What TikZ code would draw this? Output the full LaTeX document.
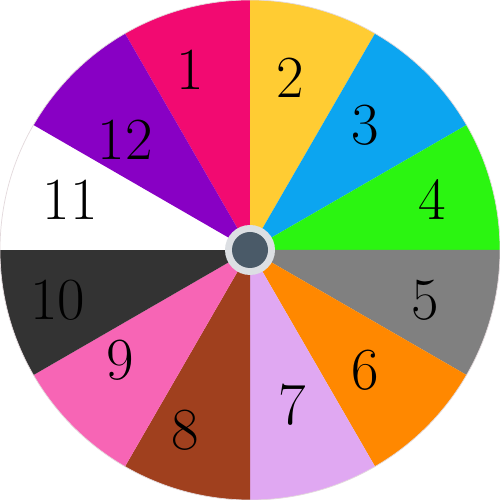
\documentclass[tikz,border=0pt]{standalone}
\usepackage{xcolor}
\definecolor{CPink}{HTML}{F20A71}
\definecolor{CYellow}{HTML}{FFCC33}
\definecolor{CBlue}{HTML}{0CA5F0}
\definecolor{CGreen}{HTML}{2BF511}
\definecolor{CGray}{HTML}{808080}
\definecolor{COrange}{HTML}{FF8800}
\definecolor{CLavender}{HTML}{E0A8F2}
\definecolor{CBrown}{HTML}{A0401E}
\definecolor{CRose}{HTML}{F765B5}
\definecolor{CDark}{HTML}{333333}
\definecolor{CWhite}{HTML}{FFFFFF}
\definecolor{CPurple}{HTML}{8800C4}
\definecolor{CHubRing}{HTML}{DCDFE3}
\definecolor{CHub}{HTML}{4A5A68}
\usepackage{tikz}
\tikzstyle{numLabel}=[text=black, font=\fontsize{34}{34}\selectfont, inner sep=0pt]

\begin{document}
\begin{tikzpicture}
\useasboundingbox (0,0) rectangle (10,10);
\fill[white] (0,0) rectangle (10,10);
% sectors, clockwise from the top
\foreach \col [count=\i] in {CPink,CYellow,CBlue,CGreen,CGray,COrange,CLavender,CBrown,CRose,CDark,CWhite,CPurple}
  \fill[\col] (5,5) -- ++(150-\i*30:5) arc[start angle=150-\i*30, end angle=120-\i*30, radius=5] -- cycle;
\draw[CHubRing!80!pink, line width=0.4pt] (5,5) circle (5);
% hub
\node[circle, fill=CHubRing, minimum size=1.0cm, inner sep=0pt] (hubring) at (5,5) {};
\node[circle, fill=CHub, minimum size=0.72cm, inner sep=0pt] (hub) at (5,5) {};
% numbers
\node[numLabel] (n1) at (3.8,8.6) {1};
\node[numLabel] (n2) at (5.8,8.45) {2};
\node[numLabel] (n3) at (7.3,7.5) {3};
\node[numLabel] (n4) at (8.65,6.0) {4};
\node[numLabel] (n5) at (8.5,4.0) {5};
\node[numLabel] (n6) at (7.3,2.6) {6};
\node[numLabel] (n7) at (5.85,1.9) {7};
\node[numLabel] (n8) at (3.7,1.4) {8};
\node[numLabel] (n9) at (2.4,2.8) {9};
\node[numLabel] (n10) at (1.15,4.0) {10};
\node[numLabel] (n11) at (1.4,6.0) {11};
\node[numLabel] (n12) at (2.5,7.2) {12};
\end{tikzpicture}
\end{document}
